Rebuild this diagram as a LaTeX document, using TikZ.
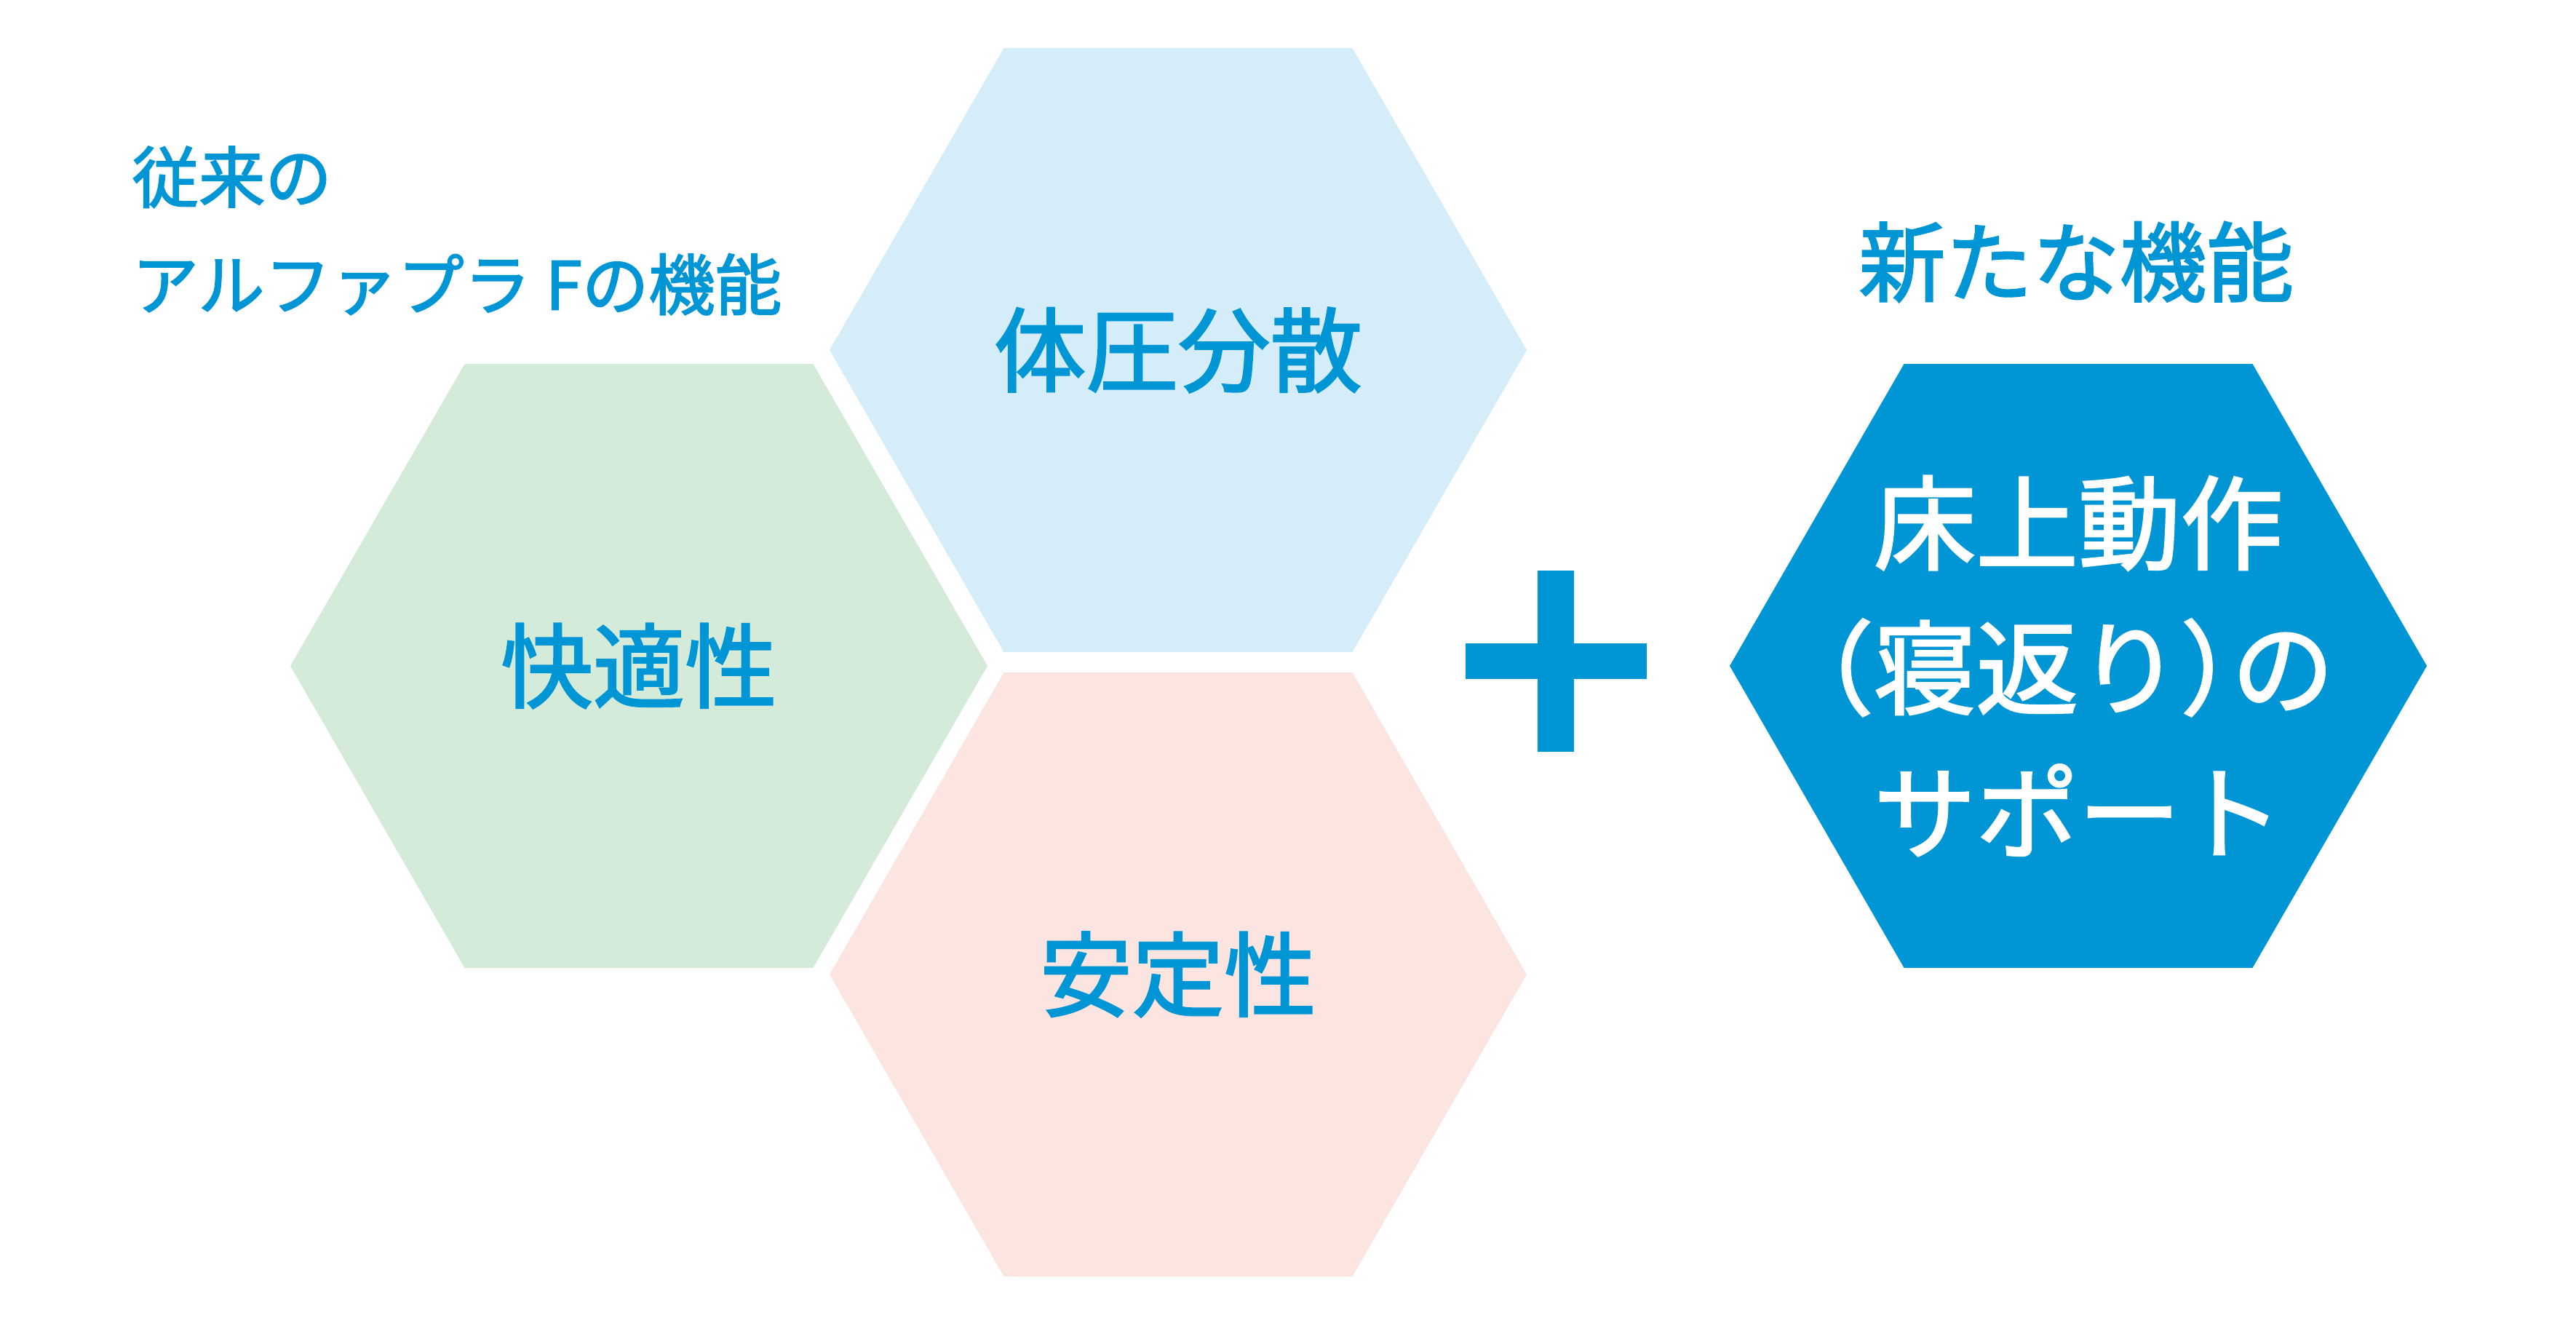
\documentclass[tikz,border=0pt]{standalone}
\usepackage{fontspec}
\newfontfamily\jp{Noto Sans CJK JP}[FakeBold=2]
\newcommand{\narrowparen}[1]{{\addfontfeature{RawFeature=+halt}#1}}
\usetikzlibrary{shapes.geometric,calc}
\definecolor{hexgreen}{HTML}{D5EBD9}
\definecolor{hexsky}{HTML}{D5ECF9}
\definecolor{hexpink}{HTML}{FCE4E0}
\definecolor{brandblue}{HTML}{0096D6}
\tikzset{
  hexcell/.style={regular polygon, regular polygon sides=6, minimum size=9.58cm,
    inner sep=0pt, outer sep=0pt, text=brandblue, font=\jp\fontsize{36}{44}\selectfont},
  headline/.style={text=brandblue, inner sep=0pt}
}

\begin{document}
\begin{tikzpicture}
\useasboundingbox (0,0) rectangle (35.4,18.22);
% hexagons
\node[hexcell, fill=hexgreen] (comfort) at (8.78,9.07) {快適性};
\node[hexcell, fill=hexsky] (pressure) at (16.19,13.41) {体圧分散};
\node[hexcell, fill=hexpink] (stable) at (16.19,4.83) {安定性};
\node[hexcell, fill=brandblue,
  label={[text=white, align=center, font=\jp\fontsize{40}{56.6}\selectfont]center:床上動作\\\narrowparen{（}寝返り\narrowparen{）}の\\サポート}]
  (newfunc) at (28.56,9.07) {};
% headings
\node[headline, anchor=west, align=left, font=\jp\fontsize{26}{42}\selectfont]
  (oldtitle) at (1.81,15.05) {従来の\\アルファプラ Fの機能};
\node[headline, font=\jp\fontsize{34}{40}\selectfont] (newtitle) at (28.53,14.62) {新たな機能};
% plus
\coordinate (plus) at (21.38,9.135);
\fill[brandblue] ($(plus)+(-1.245,-0.245)$) rectangle ($(plus)+(1.245,0.245)$);
\fill[brandblue] ($(plus)+(-0.25,-1.245)$) rectangle ($(plus)+(0.25,1.245)$);
\end{tikzpicture}
\end{document}
